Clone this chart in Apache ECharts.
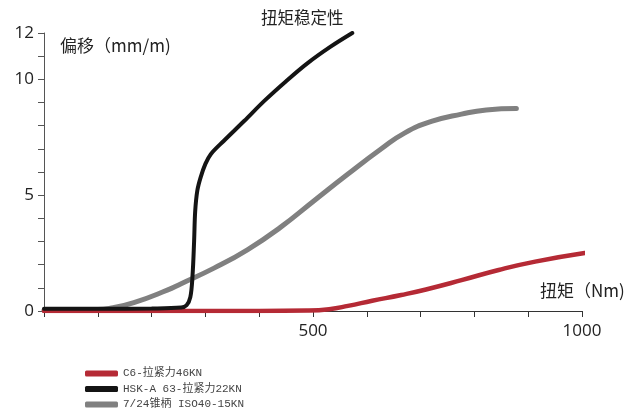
<!DOCTYPE html>
<html>
<head>
<meta charset="utf-8">
<script src="https://cdn.jsdelivr.net/npm/echarts@6/dist/echarts.min.js"></script>
<style>
html,body{margin:0;padding:0;background:#fff;}
#chart{width:633px;height:411px;}
</style>
</head>
<body>
<div id="chart"></div>
<script>
// ---- data ----
const seriesNames = ['C6-拉紧力46KN', 'HSK-A 63-拉紧力22KN', '7/24锥柄 ISO40-15KN'];

const redTorque = [0, 200, 400, 490, 530, 565, 610, 664, 710, 776, 845, 913, 1005];
const redOffset = [0, 0, 0, 0.02, 0.08, 0.22, 0.44, 0.69, 0.93, 1.33, 1.77, 2.13, 2.5];

const blackTorque = [0, 100, 200, 255, 265, 272, 276, 279, 281, 285, 291, 300, 310, 334, 372, 410, 450, 490, 532, 573];
const blackOffset = [0.1, 0.1, 0.11, 0.15, 0.25, 0.6, 1.5, 3.0, 4.3, 5.2, 5.76, 6.35, 6.77, 7.34, 8.2, 9.08, 9.92, 10.7, 11.4, 12.0];

const grayTorque = [0, 100, 123, 167, 229, 254, 316, 378, 440, 502, 565, 627, 670, 720, 776, 822, 878];
const grayOffset = [0.03, 0.06, 0.12, 0.36, 0.9, 1.17, 1.85, 2.64, 3.62, 4.76, 5.91, 7.0, 7.68, 8.18, 8.5, 8.68, 8.74];

const xTickLabels = [500, 1000];
const yTickLabels = [0, 5, 10, 12];

const titleText = '扭矩稳定性';
const yName = '偏移（mm/m)';
const xName = '扭矩（Nm)';

const colors = ['#b52a35', '#141414', '#808080'];

function pairs(xs, ys) { return xs.map((x, i) => [x, ys[i]]); }

const chart = echarts.init(document.getElementById('chart'), null, {renderer: 'canvas'});
const sansFont = "'Open Sans', 'Noto Sans', 'Noto Sans CJK SC', sans-serif";
const cjkFont = "'Noto Sans CJK SC', 'Open Sans', sans-serif";

chart.setOption({
  animation: false,
  backgroundColor: '#fff',
  title: {
    text: titleText,
    left: 261, top: 9, padding: 0,
    textStyle: {fontSize: 16.5, fontWeight: 'normal', color: '#222', fontFamily: cjkFont}
  },
  grid: {left: 44, right: 51, top: 33, bottom: 100, containLabel: false},
  legend: {
    orient: 'vertical',
    left: 85, top: 367, padding: 0,
    itemWidth: 33, itemHeight: 6, itemGap: 2.5,
    icon: 'roundRect',
    data: seriesNames,
    textStyle: {fontSize: 11, lineHeight: 13, color: '#444', fontFamily: "'Liberation Mono', 'Noto Sans CJK SC', monospace"}
  },
  graphic: [
    {type: 'text', left: 60, top: 37, style: {text: yName, font: "17px 'Noto Sans CJK SC', sans-serif", fill: '#222'}},
    {type: 'text', left: 540, top: 282, style: {text: xName, font: "17px 'Noto Sans CJK SC', sans-serif", fill: '#222'}}
  ],
  xAxis: {
    type: 'value', min: 0, max: 1000, interval: 100,
    splitLine: {show: false},
    axisLine: {lineStyle: {color: '#333', width: 1}},
    axisTick: {show: true, length: 6, lineStyle: {color: '#333'}},
    axisLabel: {
      margin: 12, fontSize: 17, color: '#222', fontFamily: sansFont,
      formatter: v => xTickLabels.includes(v) ? String(v) : ''
    }
  },
  yAxis: {
    type: 'value', min: 0, max: 12, interval: 1,
    splitLine: {show: false},
    axisLine: {show: true, lineStyle: {color: '#555', width: 1}},
    axisTick: {show: true, length: 6, lineStyle: {color: '#555'}},
    axisLabel: {
      margin: 10, fontSize: 17, color: '#222', fontFamily: sansFont,
      formatter: v => yTickLabels.includes(v) ? String(v) : ''
    }
  },
  series: [
    {
      name: seriesNames[2], type: 'line', data: pairs(grayTorque, grayOffset),
      showSymbol: false, smooth: 0.5, z: 2,
      itemStyle: {color: colors[2]},
      lineStyle: {color: colors[2], width: 5, cap: 'round'}
    },
    {
      name: seriesNames[0], type: 'line', data: pairs(redTorque, redOffset),
      showSymbol: false, smooth: 0.5, z: 3,
      itemStyle: {color: colors[0]},
      lineStyle: {color: colors[0], width: 4.5, cap: 'round'}
    },
    {
      name: seriesNames[1], type: 'line', data: pairs(blackTorque, blackOffset),
      showSymbol: false, smooth: 0.35, z: 4,
      itemStyle: {color: colors[1]},
      lineStyle: {color: colors[1], width: 4, cap: 'round'}
    }
  ]
});
</script>
</body>
</html>
